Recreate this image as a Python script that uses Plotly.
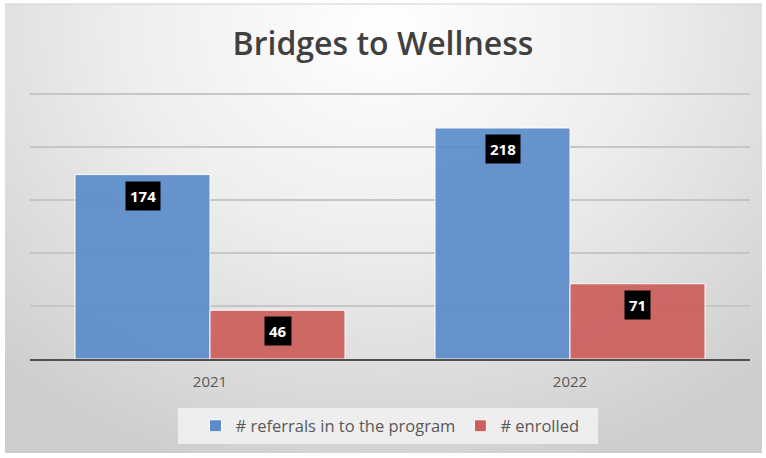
import base64
import plotly.graph_objects as go

years = ["2021", "2022"]
referrals = [174, 218]
enrolled = [46, 71]
series_names = ["# referrals in to the program", "# enrolled"]

BLUE = "#5b8cc9"
RED = "#cc5e5b"
FONT = "Open Sans, Noto Sans, sans-serif"

# soft grey radial background like the Excel chart area
svg = """<svg xmlns='http://www.w3.org/2000/svg' width='766' height='458' preserveAspectRatio='none'>
<defs><radialGradient id='g' cx='0.5' cy='0.05' r='0.75' gradientTransform='translate(0.5 0.05) scale(1 1.4) translate(-0.5 -0.05)'>
<stop offset='0' stop-color='#ffffff'/><stop offset='0.45' stop-color='#eeeeee'/>
<stop offset='1' stop-color='#cdcdcd'/></radialGradient></defs>
<rect x='5' y='4' width='757' height='449' fill='url(#g)'/>
<line x1='5' y1='4' x2='762' y2='4' stroke='#d0d0d0' stroke-width='1'/>
</svg>"""
bg_uri = "data:image/svg+xml;base64," + base64.b64encode(svg.encode()).decode()

xpos = list(range(len(years)))
bar_w = 0.375

fig = go.Figure()
fig.add_trace(go.Bar(
    x=xpos, y=referrals, name=series_names[0], width=bar_w, offset=-bar_w,
    marker=dict(color=BLUE, opacity=0.92, line=dict(color="white", width=1)),
))
fig.add_trace(go.Bar(
    x=xpos, y=enrolled, name=series_names[1], width=bar_w, offset=0,
    marker=dict(color=RED, opacity=0.92, line=dict(color="white", width=1)),
))

# black value boxes near the top of each bar
for vals, shift in [(referrals, -bar_w / 2), (enrolled, bar_w / 2)]:
    for i, v in enumerate(vals):
        fig.add_annotation(
            x=xpos[i] + shift, y=v, yshift=-21, text=f"<b>{v}</b>",
            showarrow=False, bgcolor="black", borderpad=4,
            font=dict(family=FONT, size=15, color="white"),
        )

plot_w, plot_h = 720, 266
fig.add_layout_image(dict(
    source=bg_uri, xref="paper", yref="paper", x=-30 / plot_w, y=1 + 93 / plot_h,
    sizex=766 / plot_w, sizey=458 / plot_h, xanchor="left", yanchor="top",
    sizing="stretch", layer="below",
))

# lighter box behind the legend
fig.add_shape(type="rect", xref="paper", yref="paper",
              x0=(178 - 30) / plot_w, x1=(598 - 30) / plot_w,
              y0=(359 - 444) / plot_h, y1=(359 - 408) / plot_h,
              fillcolor="rgba(242,242,242,0.85)", line_width=0, layer="below")

fig.update_layout(
    width=766, height=458,
    margin=dict(l=30, r=16, t=93, b=99, autoexpand=False),
    paper_bgcolor="white", plot_bgcolor="rgba(0,0,0,0)",
    title=dict(text="Bridges to Wellness", x=0.5, xanchor="center", y=0.905, yanchor="middle",
               font=dict(family=FONT, size=32, color="#404040", weight=600)),
    bargap=0.25,
    showlegend=True,
    legend=dict(orientation="h", x=0.5, xanchor="center", y=-0.252, yanchor="middle",
                bgcolor="rgba(0,0,0,0)", font=dict(family=FONT, size=16.5, color="#595959"),
                traceorder="normal"),
    xaxis=dict(tickvals=xpos, ticktext=years, range=[-0.5, 1.5], showgrid=False,
               showline=True, linecolor="#505050", linewidth=2,
               ticks="outside", ticklen=8, tickcolor="rgba(0,0,0,0)",
               tickfont=dict(family=FONT, size=15, color="#595959")),
    yaxis=dict(range=[0, 251], tickvals=[50, 100, 150, 200, 250], showticklabels=False,
               gridcolor="#c6c6c6", gridwidth=1.5, zeroline=False),
)

fig.write_html("out.html", config={"displayModeBar": False},
               post_script="document.body.style.margin='0';")
